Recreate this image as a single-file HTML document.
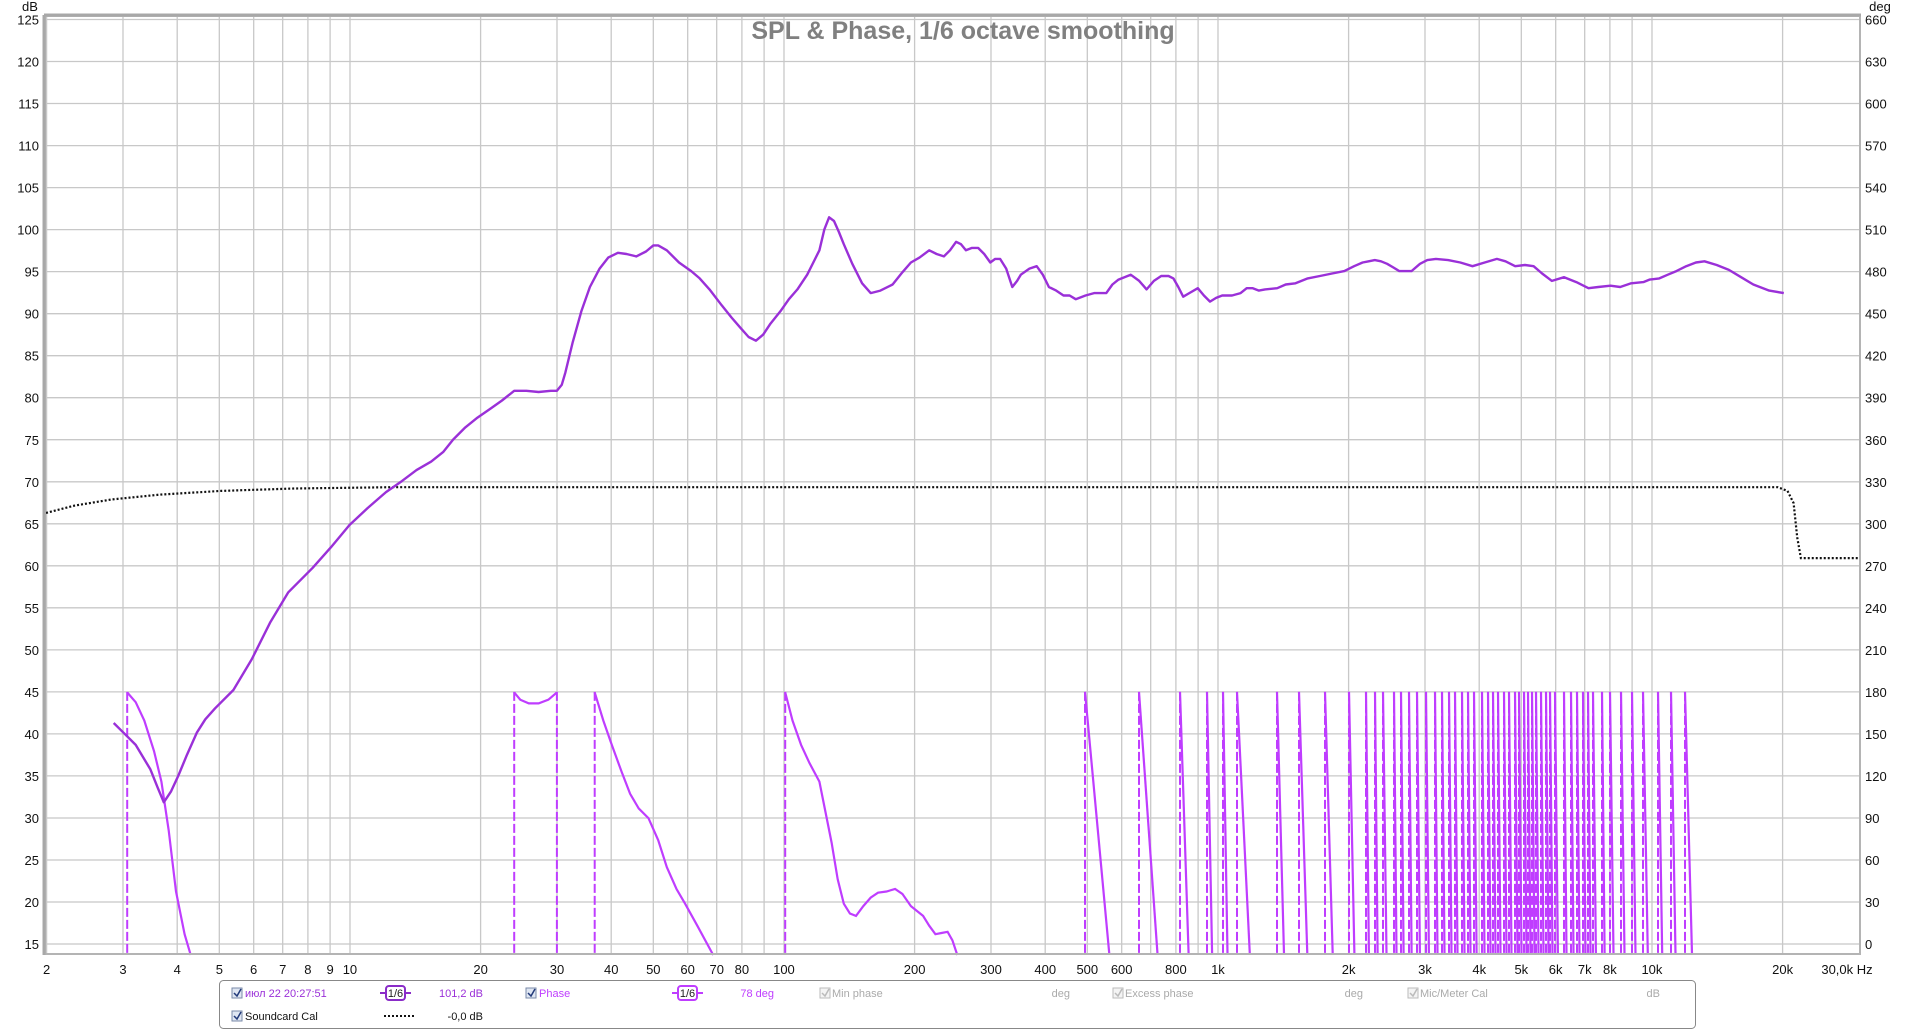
<!DOCTYPE html>
<html><head><meta charset="utf-8">
<style>
html,body{margin:0;padding:0;background:#fff;}
body{width:1916px;height:1031px;overflow:hidden;font-family:"Liberation Sans","Noto Sans CJK SC",sans-serif;}
svg{display:block}
</style></head>
<body>
<svg id="s" width="1916" height="1031" xmlns="http://www.w3.org/2000/svg" font-family="Liberation Sans, Noto Sans CJK SC, sans-serif"></svg>
<script>
(function(){
var s=document.getElementById('s'),h='';
var L=45,R=1860,T=16,B=954;
function X(f){return 46.6+434*Math.log10(f/2);}
function Y(db){return 19.5+(125-db)*8.405;}
function XD(xd){return 46.6+434*((xd-37)/355.5);}
function YD(yd){return 19.5+(yd-16)*(924.5/757);}
var fr=[2,3,4,5,6,7,8,9,10,20,30,40,50,60,70,80,90,100,200,300,400,500,600,700,800,900,1000,2000,3000,4000,5000,6000,7000,8000,9000,10000,20000];
h+='<rect x="'+L+'" y="'+T+'" width="'+(R-L)+'" height="'+(B-T)+'" fill="#fff"/>';
fr.forEach(function(f){var x=X(f).toFixed(1);h+='<line x1="'+x+'" y1="'+T+'" x2="'+x+'" y2="'+B+'" stroke="#c8c8c8" stroke-width="1.3"/>';});
for(var d=15;d<=125;d+=5){var y=Y(d).toFixed(1);h+='<line x1="'+L+'" y1="'+y+'" x2="'+R+'" y2="'+y+'" stroke="#c8c8c8" stroke-width="1.3"/>';
 h+='<text x="39" y="'+(Y(d)+5)+'" font-size="13" text-anchor="end" fill="#111">'+d+'</text>';
 h+='<text x="1865" y="'+(Y(d)+5)+'" font-size="13" fill="#111">'+((d-15)*6)+'</text>';}
h+='<text x="30" y="11" font-size="13" text-anchor="middle" fill="#111">dB</text>';
h+='<text x="1880" y="11" font-size="13" text-anchor="middle" fill="#111">deg</text>';
var xl=[[2,'2'],[3,'3'],[4,'4'],[5,'5'],[6,'6'],[7,'7'],[8,'8'],[9,'9'],[10,'10'],[20,'20'],[30,'30'],[40,'40'],[50,'50'],[60,'60'],[70,'70'],[80,'80'],[100,'100'],[200,'200'],[300,'300'],[400,'400'],[500,'500'],[600,'600'],[800,'800'],[1000,'1k'],[2000,'2k'],[3000,'3k'],[4000,'4k'],[5000,'5k'],[6000,'6k'],[7000,'7k'],[8000,'8k'],[10000,'10k'],[20000,'20k']];
xl.forEach(function(a){h+='<text x="'+X(a[0])+'" y="974" font-size="13" text-anchor="middle" fill="#111">'+a[1]+'</text>';});
h+='<text x="1847" y="974" font-size="13" text-anchor="middle" fill="#111">30,0k Hz</text>';
h+='<text x="963" y="39" font-size="25" font-weight="bold" text-anchor="middle" fill="#808080">SPL &amp; Phase, 1/6 octave smoothing</text>';
var sc=[[37,420],[60,414],[90,409],[130,405],[180,402],[240,400],[320,399],[1455,399],[1463,402],[1468,412],[1471,440],[1474,457],[1522,457]];
function pl(pts,conv){return pts.map(function(p){return (conv?XD(p[0]):p[0]).toFixed(1)+','+(conv?YD(p[1]):p[1]).toFixed(1);}).join(' ');}
var scp=pl(sc,true).split(' ');scp[0]='46,'+scp[0].split(',')[1];
h+='<polyline points="'+scp.join(' ')+'" fill="none" stroke="#111" stroke-width="2.2" stroke-dasharray="2,2"/>';
var PC='#bf3dff';
var tp=Y(45),bt=B;
function dash(x){h+='<line x1="'+x.toFixed(1)+'" y1="'+tp.toFixed(1)+'" x2="'+x.toFixed(1)+'" y2="'+bt+'" stroke="'+PC+'" stroke-width="2" stroke-dasharray="9,3"/>';}
var seg=[
 [[103,567],[110,575],[117,590],[125,615],[131,640],[137,680],[143,730],[150,765],[155,782]],
 [[420,567],[425,573],[432,576],[440,576],[448,573],[455,567]],
 [[486,567],[493,590],[500,610],[508,632],[515,650],[522,662],[530,670],[538,688],[545,710],[553,728],[560,740],[570,758],[583,782]],
 [[642,567],[648,590],[655,610],[662,625],[670,640],[675,665],[680,690],[685,720],[690,740],[695,748],[700,750],[706,742],[712,735],[718,731],[725,730],[732,728],[738,732],[745,742],[750,746],[755,750],[760,758],[765,765],[770,764],[775,763],[779,770],[783,782]]
];
[103,420,455,486,642].forEach(function(x){dash(XD(x));});
seg.forEach(function(sg){h+='<polyline points="'+pl(sg,true)+'" fill="none" stroke="'+PC+'" stroke-width="2.2"/>';});
var wr=[1085,1139,1180,1207,1223,1237,1277,1299,1325,1349,1366,1375,1383,1394,1401,1409,1417,1426,1435,1442,1449,1455,1462,1468,1474,1482,1488,1493,1498,1504,1509,1515,1519,1524,1528,1532,1536,1541,1546,1550,1555,1564,1571,1577,1583,1588,1593,1602,1610,1621,1632,1643,1658,1671,1685];
for(var i=0;i<wr.length;i++){var x=wr[i];var sp=(i<wr.length-1?wr[i+1]-x:12);var w=(i<2?0.45*sp:Math.max(2.5,0.32*sp));if(i==wr.length-1)w=7;
 dash(x);
 h+='<line x1="'+x+'" y1="'+tp.toFixed(1)+'" x2="'+(x+w).toFixed(1)+'" y2="'+bt+'" stroke="'+PC+'" stroke-width="2.2"/>';}
var spl=[[92,592],[100,600],[110,610],[122,630],[128,645],[133,657],[139,648],[145,635],[152,618],[160,600],[167,589],[175,580],[190,565],[205,540],[220,510],[235,485],[255,465],[270,448],[285,430],[300,416],[315,403],[328,394],[340,385],[352,378],[362,370],[370,360],[380,350],[390,342],[400,335],[410,328],[420,320],[430,320],[440,321],[450,320],[455,320],[459,315],[462,305],[468,280],[475,255],[482,235],[490,220],[497,211],[505,207],[512,208],[520,210],[528,206],[534,201],[538,201],[545,205],[555,215],[565,222],[572,228],[580,237],[590,250],[598,260],[605,268],[612,276],[618,279],[624,274],[630,265],[638,255],[645,245],[652,237],[660,225],[666,213],[670,205],[674,188],[678,178],[682,181],[686,190],[690,200],[697,216],[705,232],[712,240],[720,238],[730,233],[738,223],[745,215],[752,211],[760,205],[766,208],[772,210],[777,205],[782,198],[786,200],[790,205],[795,203],[800,203],[805,208],[810,215],[814,212],[818,212],[823,220],[828,235],[832,230],[835,225],[842,220],[848,218],[853,225],[858,235],[864,238],[870,242],[875,242],[880,245],[888,242],[895,240],[905,240],[910,233],[915,229],[925,225],[932,230],[938,237],[944,230],[950,226],[956,226],[960,228],[964,235],[968,243],[973,240],[980,236],[985,242],[990,247],[995,244],[1000,242],[1008,242],[1015,240],[1020,236],[1025,236],[1030,238],[1035,237],[1045,236],[1052,233],[1060,232],[1070,228],[1080,226],[1090,224],[1100,222],[1108,218],[1115,215],[1120,214],[1125,213],[1130,214],[1135,216],[1140,219],[1145,222],[1155,222],[1162,216],[1168,213],[1175,212],[1185,213],[1195,215],[1205,218],[1215,215],[1225,212],[1232,214],[1240,218],[1248,217],[1255,218],[1262,224],[1270,230],[1280,227],[1290,231],[1300,236],[1308,235],[1318,234],[1326,235],[1335,232],[1345,231],[1350,229],[1358,228],[1365,225],[1372,222],[1380,218],[1388,215],[1395,214],[1405,217],[1415,221],[1425,227],[1435,233],[1448,238],[1460,240]];
h+='<polyline points="'+pl(spl,true)+'" fill="none" stroke="#9a30d8" stroke-width="2.4" stroke-linejoin="round"/>';
h+='<rect x="'+L+'" y="'+T+'" width="'+(R-L)+'" height="'+(B-T)+'" fill="none" stroke="#b4b4b4" stroke-width="2"/>';
h+='<line x1="'+(L-1)+'" y1="'+(T-1)+'" x2="'+(L-1)+'" y2="'+(B+1)+'" stroke="#a8a8a8" stroke-width="3"/>';
h+='<line x1="'+(L-1)+'" y1="'+(T-1)+'" x2="'+(R+1)+'" y2="'+(T-1)+'" stroke="#a8a8a8" stroke-width="3"/>';
h+='<rect x="219.5" y="980.5" width="1476" height="48" rx="4" fill="#fff" stroke="#888" stroke-width="1"/>';
function cb(x,y,dim){h+='<rect x="'+x+'" y="'+(y-9)+'" width="10" height="10" fill="'+(dim?'#f4f4f4':'#dfe6f2')+'" stroke="'+(dim?'#bbb':'#7a8aa8')+'"/>'+
 '<path d="M'+(x+2)+','+(y-4)+' l3,3 l4,-7" fill="none" stroke="'+(dim?'#bbb':'#223a7a')+'" stroke-width="1.5"/>';}
function tx(x,y,t,c,a){h+='<text x="'+x+'" y="'+y+'" font-size="11" fill="'+c+'"'+(a?' text-anchor="'+a+'"':'')+'>'+t+'</text>';}
function badge(x,y,c){h+='<line x1="'+x+'" y1="'+(y-4)+'" x2="'+(x+31)+'" y2="'+(y-4)+'" stroke="'+c+'" stroke-width="2"/><rect x="'+(x+6)+'" y="'+(y-11)+'" width="19" height="14" rx="3" fill="#fff" stroke="'+c+'" stroke-width="2"/>';tx(x+15.5,y,'1/6','#222','middle');}
var r1=997,r2=1020;
cb(232,r1);tx(245,r1,'июл 22 20:27:51','#9a30d8');badge(380,r1,'#8a2cc8');tx(483,r1,'101,2 dB','#9a30d8','end');
cb(526,r1);tx(539,r1,'Phase','#bf3dff');badge(672,r1,'#bf3dff');tx(774,r1,'78 deg','#bf3dff','end');
cb(820,r1,1);tx(832,r1,'Min phase','#aaa');tx(1070,r1,'deg','#aaa','end');
cb(1113,r1,1);tx(1125,r1,'Excess phase','#aaa');tx(1363,r1,'deg','#aaa','end');
cb(1408,r1,1);tx(1420,r1,'Mic/Meter Cal','#aaa');tx(1660,r1,'dB','#aaa','end');
cb(232,r2);tx(245,r2,'Soundcard Cal','#111');
h+='<line x1="384" y1="'+(r2-4)+'" x2="414" y2="'+(r2-4)+'" stroke="#111" stroke-width="2" stroke-dasharray="2,2"/>';
tx(483,r2,'-0,0 dB','#111','end');
s.innerHTML=h;
})();
</script>
</body></html>
